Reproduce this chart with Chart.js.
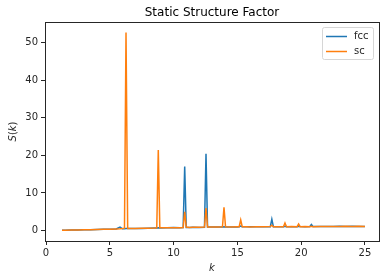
<!DOCTYPE html>
<html>
<head>
<meta charset="utf-8">
<script src="https://cdn.jsdelivr.net/npm/chart.js@4/dist/chart.umd.min.js"></script>
<style>
  html, body { margin: 0; padding: 0; background: #fff; }
  #wrap { width: 385px; height: 280px; }
</style>
</head>
<body>
<div id="wrap"><canvas id="sfChart" width="385" height="280"></canvas></div>
<script>
// wave numbers k (shared by both series)
const kValues = [1.25, 1.5, 2, 2.5, 3, 3.5, 4, 4.5, 5, 5.5, 5.8, 6.0, 6.15, 6.27, 6.4, 6.6, 7, 7.5, 8, 8.5,
  8.68, 8.8, 8.92, 9.5, 10, 10.5, 10.75, 10.87, 10.99, 11.25, 11.5, 12, 12.42, 12.54, 12.66, 13, 13.5,
  13.83, 13.95, 14.07, 14.5, 15, 15.14, 15.26, 15.38, 15.75, 16, 16.5, 17, 17.58, 17.7, 17.82, 18.25,
  18.61, 18.73, 18.85, 19.25, 19.68, 19.8, 19.92, 20.3, 20.68, 20.8, 20.92, 21.5, 22, 22.5, 23, 23.5,
  24, 24.5, 25];

// S(k) for fcc lattice
const fccValues = [0.05, 0.08, 0.1, 0.15, 0.18, 0.22, 0.25, 0.3, 0.33, 0.4, 0.9, 0.45, 0.45, 0.5, 0.5, 0.5, 0.55, 0.55, 0.6, 0.65,
  0.65, 0.7, 0.65, 0.7, 0.8, 0.75, 0.8, 17.0, 0.8, 0.8, 0.85, 0.8, 0.85, 20.4, 0.9, 0.9, 0.9,
  0.9, 1.0, 0.9, 0.95, 0.95, 1.0, 1.2, 1.0, 1.0, 1.0, 1.0, 1.0, 1.0, 3.0, 1.0, 1.0,
  1.0, 1.1, 1.0, 1.0, 1.0, 1.1, 1.05, 1.0, 1.05, 1.6, 1.05, 1.05, 1.05, 1.05, 1.1, 1.05,
  1.1, 1.05, 1.05];

// S(k) for sc lattice
const scValues = [0.05, 0.06, 0.1, 0.14, 0.2, 0.2, 0.27, 0.3, 0.35, 0.4, 0.45, 0.5, 0.6, 52.7, 0.5, 0.5, 0.5, 0.6, 0.6, 0.65,
  0.7, 21.4, 0.7, 0.7, 0.75, 0.7, 0.8, 5.0, 0.9, 0.8, 0.85, 0.85, 0.9, 6.0, 0.95, 0.9, 0.95,
  1.0, 6.2, 1.0, 0.95, 1.0, 1.0, 2.8, 1.0, 1.0, 0.95, 1.0, 1.0, 1.05, 1.4, 1.0, 1.0,
  1.0, 2.0, 1.0, 1.05, 1.0, 1.7, 1.0, 1.05, 1.0, 1.1, 1.0, 1.05, 1.05, 1.05, 1.05, 1.1,
  1.05, 1.1, 1.05];

const xTicks = [0, 5, 10, 15, 20, 25];
const yTicks = [0, 10, 20, 30, 40, 50];

const seriesNames = ['fcc', 'sc'];
const seriesColors = ['#1f77b4', '#ff7f0e'];

const FONT = 'DejaVu Sans';
const INK = '#262626';

function toPoints(ys) {
  return kValues.map((k, i) => ({ x: k, y: ys[i] }));
}

// draw a row of [text, italic] pieces centred at 0,0 on the current transform
function drawMixed(ctx, parts) {
  const widths = parts.map(p => {
    ctx.font = (p[1] ? 'italic ' : '') + '10px ' + FONT;
    return ctx.measureText(p[0]).width;
  });
  let x = -widths.reduce((s, w) => s + w, 0) / 2;
  parts.forEach((p, i) => {
    ctx.font = (p[1] ? 'italic ' : '') + '10px ' + FONT;
    ctx.fillText(p[0], x, 0);
    x += widths[i];
  });
}

// frame, title, axis labels and legend, drawn the matplotlib way
const mplExtras = {
  id: 'mplExtras',
  afterDraw(chart) {
    const ctx = chart.ctx;
    const a = chart.chartArea;
    const cx = (a.left + a.right) / 2;
    ctx.save();
    ctx.strokeStyle = INK;
    ctx.lineWidth = 1;
    ctx.strokeRect(Math.round(a.left) + 0.5, Math.round(a.top) + 0.5,
      Math.round(a.right - a.left), Math.round(a.bottom - a.top));

    ctx.fillStyle = '#000';
    ctx.font = '12px ' + FONT;
    ctx.textAlign = 'center';
    ctx.textBaseline = 'alphabetic';
    ctx.fillText('Static Structure Factor', cx, 16);

    // axis labels
    ctx.fillStyle = INK;
    ctx.textAlign = 'left';
    ctx.textBaseline = 'middle';
    ctx.save();
    ctx.translate(cx, 268);
    drawMixed(ctx, [['k', true]]);
    ctx.restore();
    ctx.save();
    ctx.translate(13, (a.top + a.bottom) / 2);
    ctx.rotate(-Math.PI / 2);
    drawMixed(ctx, [['S', true], ['(', false], ['k', true], [')', false]]);
    ctx.restore();

    // legend
    const lx = 322, ly = 27, lw = 51, lh = 32;
    ctx.fillStyle = 'rgba(255,255,255,0.8)';
    ctx.strokeStyle = '#d6d6d6';
    ctx.beginPath();
    ctx.roundRect(lx + 0.5, ly + 0.5, lw, lh, 2);
    ctx.fill();
    ctx.stroke();
    ctx.font = '10px ' + FONT;
    ctx.textAlign = 'left';
    ctx.textBaseline = 'middle';
    seriesNames.forEach((name, i) => {
      const y = ly + 9.5 + i * 15;
      ctx.strokeStyle = seriesColors[i];
      ctx.lineWidth = 1.5;
      ctx.beginPath();
      ctx.moveTo(lx + 4, y);
      ctx.lineTo(lx + 25, y);
      ctx.stroke();
      ctx.fillStyle = INK;
      ctx.fillText(name, lx + 32, y);
    });
    ctx.restore();
  }
};

const ctx = document.getElementById('sfChart').getContext('2d');
new Chart(ctx, {
  type: 'line',
  data: {
    datasets: [
      { label: seriesNames[0], data: toPoints(fccValues), borderColor: seriesColors[0], borderWidth: 1.5, pointRadius: 0, fill: false, tension: 0, order: 2 },
      { label: seriesNames[1], data: toPoints(scValues), borderColor: seriesColors[1], borderWidth: 1.5, pointRadius: 0, fill: false, tension: 0, order: 1 }
    ]
  },
  options: {
    responsive: false,
    animation: false,
    devicePixelRatio: 1,
    layout: { padding: { top: 22, right: 6, left: 0, bottom: 0 } },
    plugins: {
      legend: { display: false },
      title: { display: false },
      tooltip: { enabled: false }
    },
    scales: {
      x: {
        type: 'linear',
        min: -0.08,
        max: 26.1,
        afterBuildTicks: (axis) => { axis.ticks = xTicks.map(v => ({ value: v })); },
        afterFit: (axis) => { axis.height = 39; },
        grid: { drawOnChartArea: false, tickLength: 4, color: INK },
        border: { color: INK },
        ticks: { color: INK, font: { family: FONT, size: 10 }, padding: 2, maxRotation: 0 }
      },
      y: {
        type: 'linear',
        min: -2.8,
        max: 55.5,
        afterBuildTicks: (axis) => { axis.ticks = yTicks.map(v => ({ value: v })); },
        afterFit: (axis) => { axis.width = 45; },
        grid: { drawOnChartArea: false, tickLength: 4, color: INK },
        border: { color: INK },
        ticks: { color: INK, font: { family: FONT, size: 10 }, padding: 3 }
      }
    }
  },
  plugins: [mplExtras]
});
</script>
</body>
</html>
